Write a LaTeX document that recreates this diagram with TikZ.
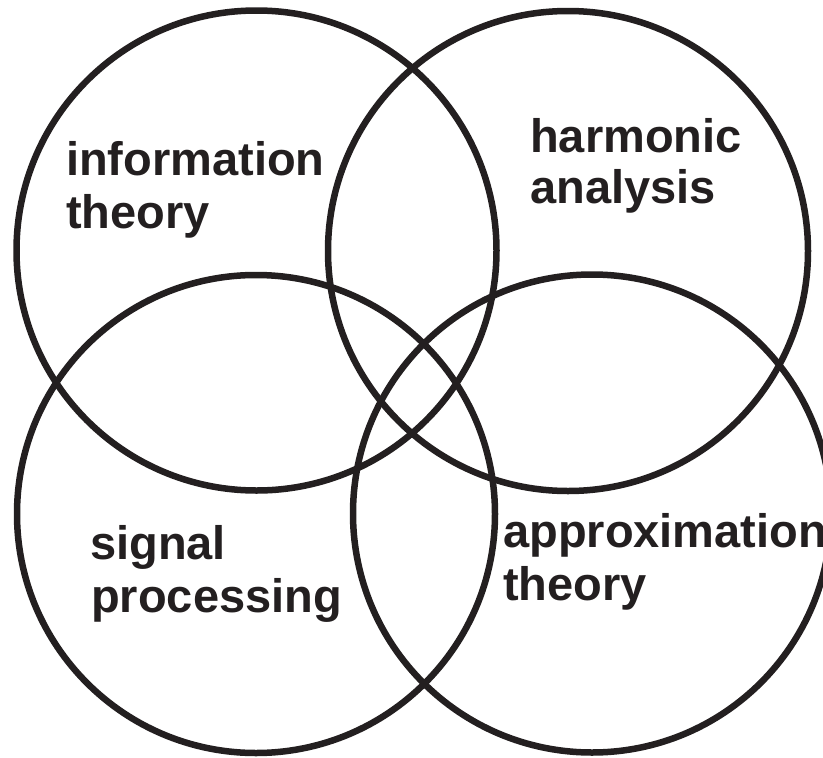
\documentclass[tikz,border=0pt]{standalone}
\usepackage{fontspec}
\setmainfont{Liberation Sans}
\definecolor{ink}{HTML}{231F20}
\begin{document}
\begin{tikzpicture}[x=1pt,y=-1pt,
  ring/.style={draw=ink,line width=6.5pt},
  lbl/.style={anchor=base west,inner sep=0pt,text=ink,font=\bfseries\fontsize{47}{53}\selectfont}]
\useasboundingbox (0,0) rectangle (823,758);
\clip (0,0) rectangle (823,758);
\coordinate (cTL) at (256.5,250.5);
\coordinate (cTR) at (568,251);
\coordinate (cBL) at (256,514);
\coordinate (cBR) at (592,513.5);
\draw[ring] (cTL) circle[radius=240pt];
\draw[ring] (cTR) circle[radius=240pt];
\draw[ring] (cBL) circle[radius=239pt];
\draw[ring] (cBR) circle[radius=239pt];
\node[lbl] (it1) at (66,175) {information};
\node[lbl] (it2) at (66,228) {theory};
\node[lbl] (ha1) at (530,152) {harmonic};
\node[lbl] (ha2) at (530,203) {analysis};
\node[lbl] (sp1) at (90,559) {signal};
\node[lbl] (sp2) at (91,612) {processing};
\node[lbl] (at1) at (503,547) {approximation};
\node[lbl] (at2) at (503,600) {theory};
\end{tikzpicture}
\end{document}
